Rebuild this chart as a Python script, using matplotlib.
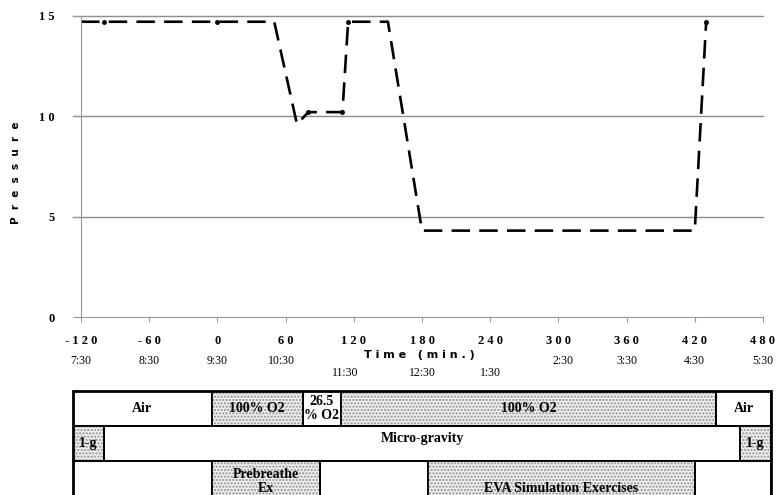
import matplotlib.pyplot as plt
from matplotlib.patches import Rectangle

# pressure profile (time in min, pressure in psi)
time_min = [-120, -100, 0, 50, 70, 80, 110, 115, 150, 180, 420, 430]
pressure = [14.7, 14.7, 14.7, 14.7, 9.6, 10.2, 10.2, 14.7, 14.7, 4.3, 4.3, 14.7]
marker_idx = [1, 2, 5, 6, 7, 11]

x_ticks = [-120, -60, 0, 60, 120, 180, 240, 300, 360, 420, 480]
x_ticklabels = ['- 1 2 0', '- 6 0', '0', '6 0', '1 2 0', '1 8 0', '2 4 0',
                '3 0 0', '3 6 0', '4 2 0', '4 8 0']
y_ticks = [0, 5, 10, 15]
y_ticklabels = ['0', '5', '1 0', '1 5']

clock_pos = [-120, -60, 0, 56, 112, 180, 240, 304, 360, 420, 480]
clock_labels = ['7:30', '8:30', '9:30', '10:30', '11:30', '12:30', '1:30',
                '2:30', '3:30', '4:30', '5:30']
clock_low = ['11:30', '12:30', '1:30']

# schedule rows: (start, end, label, shaded)
row_gas = [(-127, -5, 'Air', False), (-5, 75, '100% O2', True),
           (75, 109, '26.5\n% O2', False), (109, 439, '100% O2', True),
           (439, 487, 'Air', False)]
row_gravity = [(-127, -100, '1-g', True), (-100, 460, 'Micro-gravity', False),
               (460, 487, '1-g', True)]
row_activity = [(-127, -5, '', False), (-5, 90, 'Prebreathe\nEx', True),
                (90, 185, '', False), (185, 420, 'EVA Simulation Exercises', True),
                (420, 487, '', False)]

serif = 'Liberation Serif'

fig = plt.figure(figsize=(7.82, 4.95), dpi=100)
ax = fig.add_axes([81 / 782, 1 - 317 / 495, 682 / 782, (317 - 15.7) / 495])

ax.plot(time_min, pressure, color='black', lw=1.9, dashes=(7, 3.5),
        solid_capstyle='butt')
ax.plot([time_min[i] for i in marker_idx], [pressure[i] for i in marker_idx],
        'o', color='black', ms=2.5)

ax.set_xlim(-120, 480)
ax.set_ylim(0, 15)
for y in [5, 10, 15]:
    ax.axhline(y, color='#8c8c8c', lw=1, xmin=-8 / 682, clip_on=False, zorder=0)
for s in ['top', 'right']:
    ax.spines[s].set_visible(False)
ax.spines['left'].set_color('#999999')
ax.spines['bottom'].set_color('#999999')
ax.tick_params(axis='y', length=5.8, color='#999999', pad=13)
ax.tick_params(axis='x', length=3.6, color='#999999', pad=9)
ax.set_xticks(x_ticks)
ax.set_xticklabels(x_ticklabels, fontfamily=serif, fontweight='bold', fontsize=9)
ax.set_yticks(y_ticks)
ax.set_yticklabels(y_ticklabels, fontfamily=serif, fontweight='bold', fontsize=9)

fig.text(16 / 782, 1 - 173 / 495, 'P  r  e  s  s  u  r  e', rotation=90,
         ha='center', va='center', fontfamily='DejaVu Sans', fontweight='bold',
         fontsize=7.5)
ax.text(178, -38 / 20.1, 'T i m e   ( m i n . )', ha='center', va='center',
        fontfamily='DejaVu Sans', fontweight='bold', fontsize=8)

for pos, lab in zip(clock_pos, clock_labels):
    yy = -56 / 20.1 if lab in clock_low else -44 / 20.1
    ax.text(pos, yy, lab, ha='center', va='center', fontfamily=serif, fontsize=8.5)

# schedule table below the chart
tab = fig.add_axes([73 / 782, 1 - (391 + 3 * 35) / 495, 698 / 782, 3 * 35 / 495])
tab.set_xlim(-127, 487)
tab.set_ylim(3, 0)
tab.axis('off')

for r, row in enumerate([row_gas, row_gravity, row_activity]):
    for start, end, label, shaded in row:
        if shaded:
            tab.add_patch(Rectangle((start, r), end - start, 1, facecolor='#eeeeee',
                                    edgecolor='#909090', hatch='.....', lw=0))
        tab.add_patch(Rectangle((start, r), end - start, 1, facecolor='none',
                                edgecolor='black', lw=1.3))
        if label:
            if r == 2:
                yy = r + (0.59 if '\n' in label else 0.8)
            elif label == 'Micro-gravity':
                yy = r + 0.36
            else:
                yy = r + 0.5
            tab.text((start + end) / 2, yy, label, ha='center', va='center',
                     fontfamily=serif, fontweight='bold', fontsize=10,
                     linespacing=1.05)
tab.add_patch(Rectangle((-127, 0), 614, 3, facecolor='none', edgecolor='black',
                        lw=2, clip_on=False))

fig.savefig('out.png', dpi=100)
